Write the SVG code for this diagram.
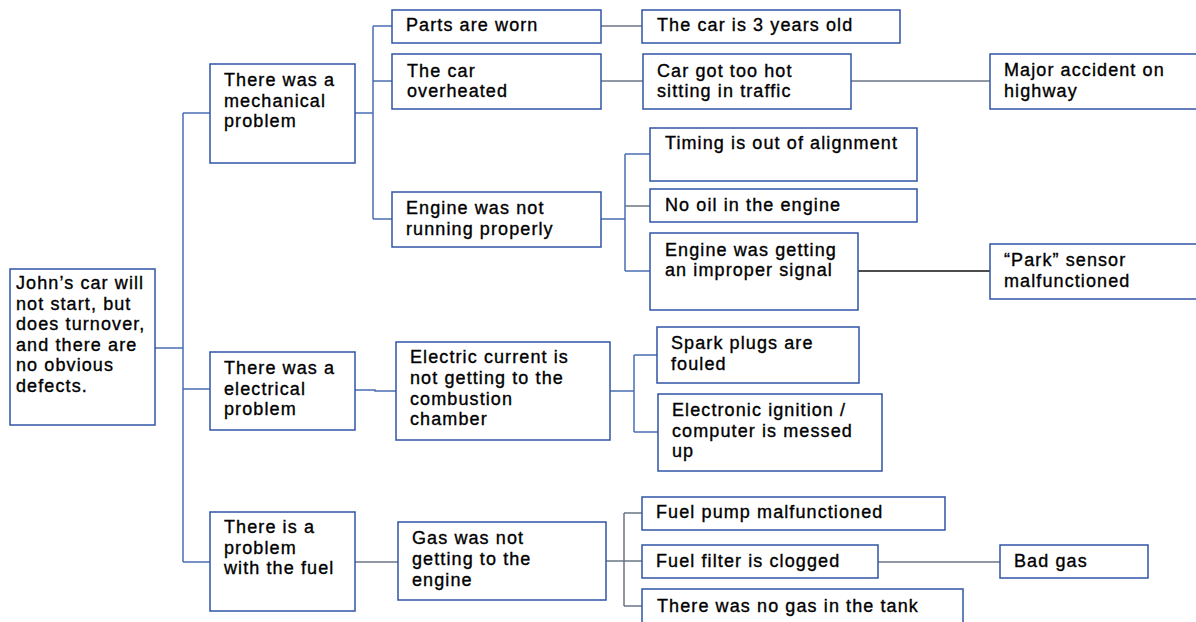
<svg xmlns="http://www.w3.org/2000/svg" width="1196" height="622" viewBox="0 0 1196 622">
<style>
.b{fill:#fff;stroke:#2f54a6;stroke-width:1.5}
.t{font-family:"Liberation Sans",Arial,sans-serif;font-size:18px;letter-spacing:1.1px;fill:#000;stroke:#000;stroke-width:0.35}
.c{fill:none;stroke:#4a6db2;stroke-width:1.5}
.g{fill:none;stroke:#6b7486;stroke-width:1.5}
.k{fill:none;stroke:#111;stroke-width:1.3}
</style>
<rect width="1196" height="622" fill="#fff"/>
<g id="connectors">
<path class="c" d="M155 348H183M183 113V562M183 113H210M183 389H210M183 562H210"/>
<path class="c" d="M355 113H373M373 26V219M373 26H392M373 81H392M373 219H392"/>
<path class="g" d="M601 26H642M601 81H643M851 81H990"/>
<path class="c" d="M601 219H625M625 154V271M625 154H650M625 271H650"/>
<path class="g" d="M625 206H650"/>
<path class="k" d="M858 271H990"/>
<path class="c" d="M355 390H375V391H396"/>
<path class="c" d="M610 391H634M634 355V432M634 355H657M634 432H658"/>
<path class="g" d="M355 562H398"/>
<path class="g" d="M606 561H624M624 513V606M624 513H642M624 561H642M624 606H642M878 562H1000"/>
</g>
<g id="n-root"><rect class="b" x="10" y="269" width="145" height="156"/>
<text class="t" x="16"><tspan x="16" y="289">John’s car will</tspan><tspan x="16" y="309.5">not start, but</tspan><tspan x="16" y="330">does turnover,</tspan><tspan x="16" y="350.5">and there are</tspan><tspan x="16" y="371">no obvious</tspan><tspan x="16" y="391.5">defects.</tspan></text></g>
<g id="n-mech"><rect class="b" x="210" y="64" width="145" height="99"/>
<text class="t"><tspan x="224" y="86">There was a</tspan><tspan x="224" y="106.5">mechanical</tspan><tspan x="224" y="127">problem</tspan></text></g>
<g id="n-elec"><rect class="b" x="210" y="352" width="145" height="78"/>
<text class="t"><tspan x="224" y="374">There was a</tspan><tspan x="224" y="394.5">electrical</tspan><tspan x="224" y="415">problem</tspan></text></g>
<g id="n-fuel"><rect class="b" x="210" y="512" width="145" height="99"/>
<text class="t"><tspan x="224" y="533">There is a</tspan><tspan x="224" y="553.5">problem</tspan><tspan x="224" y="574">with the fuel</tspan></text></g>
<g id="n-parts"><rect class="b" x="392" y="10" width="209" height="33"/>
<text class="t" x="406" y="31">Parts are worn</text></g>
<g id="n-3years"><rect class="b" x="642" y="10" width="258" height="33"/>
<text class="t" x="657" y="31">The car is 3 years old</text></g>
<g id="n-overheat"><rect class="b" x="392" y="54" width="209" height="55"/>
<text class="t"><tspan x="407" y="77">The car</tspan><tspan x="407" y="97">overheated</tspan></text></g>
<g id="n-hot"><rect class="b" x="643" y="54" width="208" height="55"/>
<text class="t"><tspan x="657" y="77">Car got too hot</tspan><tspan x="657" y="97">sitting in traffic</tspan></text></g>
<g id="n-accident"><rect class="b" x="990" y="54" width="210" height="55"/>
<text class="t"><tspan x="1004" y="76">Major accident on</tspan><tspan x="1004" y="97">highway</tspan></text></g>
<g id="n-engine"><rect class="b" x="392" y="192" width="209" height="55"/>
<text class="t"><tspan x="406" y="214">Engine was not</tspan><tspan x="406" y="235">running properly</tspan></text></g>
<g id="n-timing"><rect class="b" x="650" y="128" width="267" height="53"/>
<text class="t" x="665" y="149">Timing is out of alignment</text></g>
<g id="n-oil"><rect class="b" x="650" y="189" width="267" height="33"/>
<text class="t" x="665" y="211">No oil in the engine</text></g>
<g id="n-signal"><rect class="b" x="650" y="233" width="208" height="77"/>
<text class="t"><tspan x="665" y="256">Engine was getting</tspan><tspan x="665" y="276">an improper signal</tspan></text></g>
<g id="n-park"><rect class="b" x="990" y="244" width="210" height="55"/>
<text class="t"><tspan x="1004" y="266">“Park” sensor</tspan><tspan x="1004" y="287">malfunctioned</tspan></text></g>
<g id="n-current"><rect class="b" x="396" y="342" width="214" height="98"/>
<text class="t"><tspan x="410" y="363">Electric current is</tspan><tspan x="410" y="384">not getting to the</tspan><tspan x="410" y="404.5">combustion</tspan><tspan x="410" y="425">chamber</tspan></text></g>
<g id="n-spark"><rect class="b" x="657" y="327" width="202" height="56"/>
<text class="t"><tspan x="671" y="349">Spark plugs are</tspan><tspan x="671" y="370">fouled</tspan></text></g>
<g id="n-ignition"><rect class="b" x="658" y="394" width="224" height="77"/>
<text class="t"><tspan x="672" y="416">Electronic ignition /</tspan><tspan x="672" y="436.5">computer is messed</tspan><tspan x="672" y="457">up</tspan></text></g>
<g id="n-gas"><rect class="b" x="398" y="522" width="208" height="78"/>
<text class="t"><tspan x="412" y="544">Gas was not</tspan><tspan x="412" y="565">getting to the</tspan><tspan x="412" y="586">engine</tspan></text></g>
<g id="n-pump"><rect class="b" x="642" y="497" width="303" height="33"/>
<text class="t" x="656" y="518">Fuel pump malfunctioned</text></g>
<g id="n-filter"><rect class="b" x="642" y="545" width="236" height="33"/>
<text class="t" x="656" y="567">Fuel filter is clogged</text></g>
<g id="n-badgas"><rect class="b" x="1000" y="545" width="148" height="33"/>
<text class="t" x="1014" y="567">Bad gas</text></g>
<g id="n-nogas"><rect class="b" x="642" y="589" width="321" height="40"/>
<text class="t" x="657" y="612">There was no gas in the tank</text></g>
</svg>
